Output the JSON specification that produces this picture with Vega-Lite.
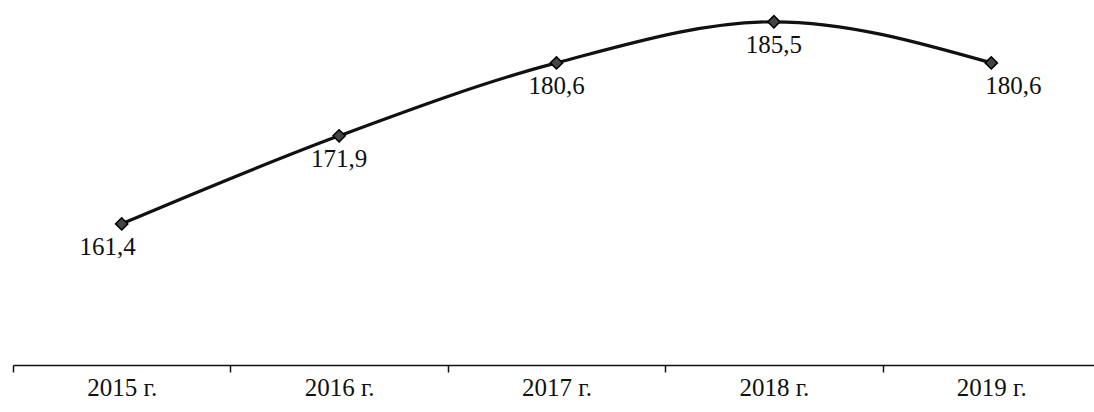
{
  "$schema": "https://vega.github.io/schema/vega-lite/v6.json",
  "autosize": {"type": "none"},
  "width": 1087,
  "height": 365,
  "padding": {"left": 13, "top": 0, "right": 0, "bottom": 47},
  "background": "white",
  "config": {"view": {"stroke": null}, "font": "Liberation Serif"},
  "data": {"values": [
    {"year": "2015 г.", "value": 161.4, "label": "161,4"},
    {"year": "2016 г.", "value": 171.9, "label": "171,9"},
    {"year": "2017 г.", "value": 180.6, "label": "180,6"},
    {"year": "2018 г.", "value": 185.5, "label": "185,5"},
    {"year": "2019 г.", "value": 180.6, "label": "180,6"}
  ]},
  "encoding": {
    "x": {"field": "year", "type": "nominal", "sort": null,
      "scale": {"paddingInner": 0, "paddingOuter": 0},
      "axis": {"title": null, "labelAngle": 0, "labelFont": "Liberation Serif", "labelFontSize": 25, "labelColor": "#111",
        "domainColor": "#111", "domainWidth": 1.5, "domainOpacity": 1, "tickColor": "#111", "tickSize": 7, "tickWidth": 1.5, "tickOpacity": 1, "tickBand": "extent", "labelPadding": 3, "grid": false}},
    "y": {"field": "value", "type": "quantitative", "scale": {"domain": [144.57, 188.1], "nice": false, "zero": false}, "axis": null}
  },
  "layer": [
    {"mark": {"type": "line", "interpolate": "monotone", "color": "#111", "strokeWidth": 3.2}},
    {"mark": {"type": "point", "shape": "diamond", "filled": true, "color": "#444", "stroke": "#000", "strokeWidth": 1.5, "size": 150, "opacity": 1}},
    {"transform": [{"filter": "datum.year != '2015 г.' && datum.year != '2019 г.'"}],
     "mark": {"type": "text", "baseline": "top", "dy": 11, "fontSize": 25, "color": "#111", "font": "Liberation Serif"},
     "encoding": {"text": {"field": "label"}}},
    {"transform": [{"filter": "datum.year == '2015 г.'"}],
     "mark": {"type": "text", "baseline": "top", "dy": 11, "dx": -14, "fontSize": 25, "color": "#111", "font": "Liberation Serif"},
     "encoding": {"text": {"field": "label"}}},
    {"transform": [{"filter": "datum.year == '2019 г.'"}],
     "mark": {"type": "text", "baseline": "top", "dy": 11, "dx": 22, "fontSize": 25, "color": "#111", "font": "Liberation Serif"},
     "encoding": {"text": {"field": "label"}}}
  ]
}
